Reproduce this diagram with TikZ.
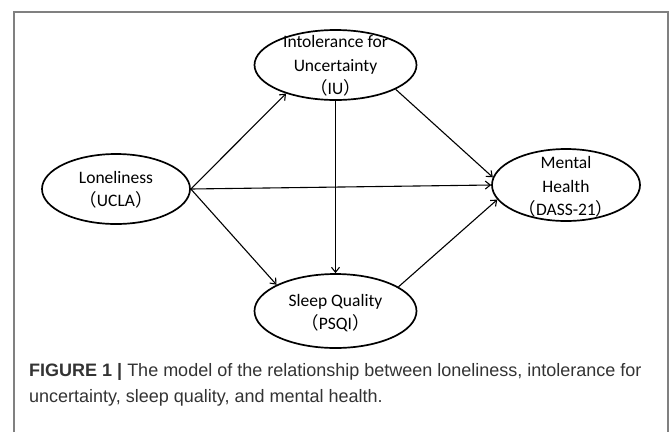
\documentclass[tikz,border=0pt]{standalone}
\usepackage{fontspec}
\setmainfont{Carlito}
\newfontfamily\capfont{Liberation Sans}
\newfontfamily\cjk{Noto Sans CJK SC}
\usetikzlibrary{shapes.geometric,arrows.meta}

\newcommand{\fwparen}[1]{{\cjk （}#1{\cjk ）}}

\begin{document}
\begin{tikzpicture}[x=1pt,y=-1pt,
    latent/.style={draw, line width=1.7pt, ellipse, inner sep=0pt},
    vartext/.style={align=center, font=\fontsize{17.5}{23.5}\selectfont},
    effect/.style={-{Straight Barb[length=5pt,width=8pt]}, line width=1.1pt}]
  \useasboundingbox (0,0) rectangle (669,432);

  % frame
  \draw[gray, line width=1.3pt] (14,432) -- (14,12) -- (668,12) -- (668,432);

  % variables
  \node[latent, minimum width=162pt, minimum height=70pt] (iu) at (335.5,65) {};
  \node[latent, minimum width=148pt, minimum height=70pt] (lon) at (116,189) {};
  \node[latent, minimum width=148pt, minimum height=72pt] (mh) at (566,185) {};
  \node[latent, minimum width=162pt, minimum height=74pt] (sq) at (335.5,311) {};

  \node[vartext] (iutext) at (335.5,66) {Intolerance for\\Uncertainty\\\fwparen{IU}};
  \node[vartext] (lontext) at (116,190) {Loneliness\\\fwparen{UCLA}};
  \node[vartext] (mhtext) at (566,187) {Mental\\Health\\\fwparen{DASS-21}};
  \node[vartext] (sqtext) at (335.5,313) {Sleep Quality\\\fwparen{PSQI}};

  % paths
  \draw[effect] (lon.east) -- (iu.210);
  \draw[effect] (lon.east) -- (mh.west);
  \draw[effect] (lon.east) -- (sq.156);
  \draw[effect] (iu.south) -- (sq.north);
  \draw[effect] (iu.-22) -- (mh.174);
  \draw[effect] (sq.21) -- (mh.192);

  % caption
  \node[anchor=base west, inner sep=0pt, text=black!80,
        font=\capfont\fontsize{18}{26}\selectfont, align=left] (cap) at (29,402)
    {\textbf{FIGURE 1 |} The model of the relationship between loneliness, intolerance for\\
     uncertainty, sleep quality, and mental health.};
\end{tikzpicture}
\end{document}
